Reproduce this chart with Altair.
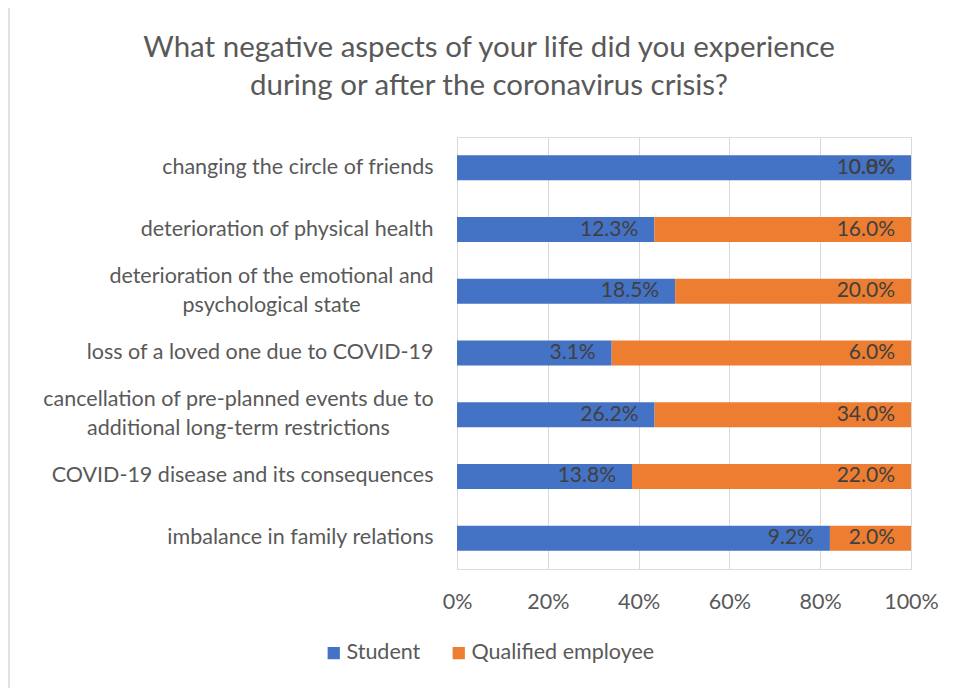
import altair as alt
import pandas as pd

title_lines = ["What negative aspects of your life did you experience",
               "during or after the coronavirus crisis?"]
aspects = [
    "changing the circle of friends",
    "deterioration of physical health",
    "deterioration of the emotional and\npsychological state",
    "loss of a loved one due to COVID-19",
    "cancellation of pre-planned events due to\nadditional long-term restrictions",
    "COVID-19 disease and its consequences",
    "imbalance in family relations",
]
student = [10.8, 12.3, 18.5, 3.1, 26.2, 13.8, 9.2]
employee = [0.0, 16.0, 20.0, 6.0, 34.0, 22.0, 2.0]
groups = ["Student", "Qualified employee"]
colors = ["#4472C4", "#ED7D31"]

rows = []
for a, s, e in zip(aspects, student, employee):
    rows.append({"aspect": a, "group": groups[0], "order": 0, "value": s, "label": f"{s:.1f}%"})
    rows.append({"aspect": a, "group": groups[1], "order": 1, "value": e, "label": f"{e:.1f}%"})
df = pd.DataFrame(rows)

FONT = "Lato"
LFS = 21.5

base = alt.Chart(df).transform_stack(
    stack="value", groupby=["aspect"], as_=["v0", "v1"], offset="normalize",
    sort=[alt.SortField("order", order="ascending")]
)

multi = "indexof(datum.label, '\\n') >= 0"

y_enc = alt.Y(
    "aspect:N", sort=aspects, title=None,
    scale=alt.Scale(paddingInner=0.595, paddingOuter=0.2975),
    axis=alt.Axis(
        labelExpr="split(datum.label, '\\n')", labelFontSize=LFS, labelColor="#595959",
        labelFont=FONT, labelLimit=600, labelLineHeight=29,
        labelPadding={"condition": [
            {"test": "indexof(datum.label, 'emotional') >= 0", "value": 186},
            {"test": "indexof(datum.label, 'cancellation') >= 0", "value": 219},
        ], "value": 24},
        labelAlign={"condition": {"test": multi, "value": "center"}, "value": "right"},
        labelOffset={"condition": {"test": multi, "value": -14.5}, "value": 0},
        ticks=False, domain=False, grid=False,
    ),
)

bars = base.mark_bar().encode(
    x=alt.X(
        "v0:Q", title=None, scale=alt.Scale(domain=[0, 1]),
        axis=alt.Axis(
            format=".0%", values=[0, 0.2, 0.4, 0.6, 0.8, 1.0], labelFontSize=LFS,
            labelColor="#595959", labelFont=FONT, labelPadding=22, ticks=False,
            labelFlush=False,
            domain=False, grid=True, gridColor="#D9D9D9", gridWidth=1,
        ),
    ),
    x2="v1:Q",
    y=y_enc,
    color=alt.Color(
        "group:N", sort=groups, scale=alt.Scale(domain=groups, range=colors),
        legend=alt.Legend(
            title=None, orient="none", direction="horizontal", legendX=-134,
            legendY=505, symbolType="square", symbolSize=150, symbolStrokeWidth=0,
            labelFontSize=LFS, labelColor="#595959", labelFont=FONT, columnPadding=27,
            labelOffset=2, labelLimit=400,
        ),
    ),
    order=alt.Order("order:Q"),
)

texts = base.mark_text(align="right", dx=-16, fontSize=21, color="#404040", font=FONT).encode(
    x="v1:Q",
    y=alt.Y("aspect:N", sort=aspects),
    text="label:N",
)

frame_df = pd.DataFrame({"k": [0]})
frame_left = alt.Chart(frame_df).mark_rule(color="#D9D9D9", strokeWidth=1.5).encode(
    x=alt.value(-448), y=alt.value(-132), y2=alt.value(560)
)
frame_top = alt.Chart(frame_df).mark_rule(color="#D9D9D9", strokeWidth=1.5).encode(
    x=alt.value(-448), x2=alt.value(502), y=alt.value(-132)
)
title_mark = alt.Chart(frame_df).mark_text(
    align="center", baseline="middle", fontSize=29.5, font=FONT, color="#595959",
    lineBreak="\n", lineHeight=38,
).encode(
    x=alt.value(32), y=alt.value(-89), text=alt.value("\n".join(title_lines))
)

chart = (
    alt.layer(frame_left, frame_top, title_mark, bars, texts)
    .properties(
        width=454,
        height=432,
        padding={"left": 449, "top": 129, "right": 40, "bottom": 130},
        autosize=alt.AutoSizeParams(type="none"),
    )
    .configure_view(stroke=None)
    .configure(background="white")
)

chart.save("out.html", embed_options={"renderer": "svg", "actions": False})
